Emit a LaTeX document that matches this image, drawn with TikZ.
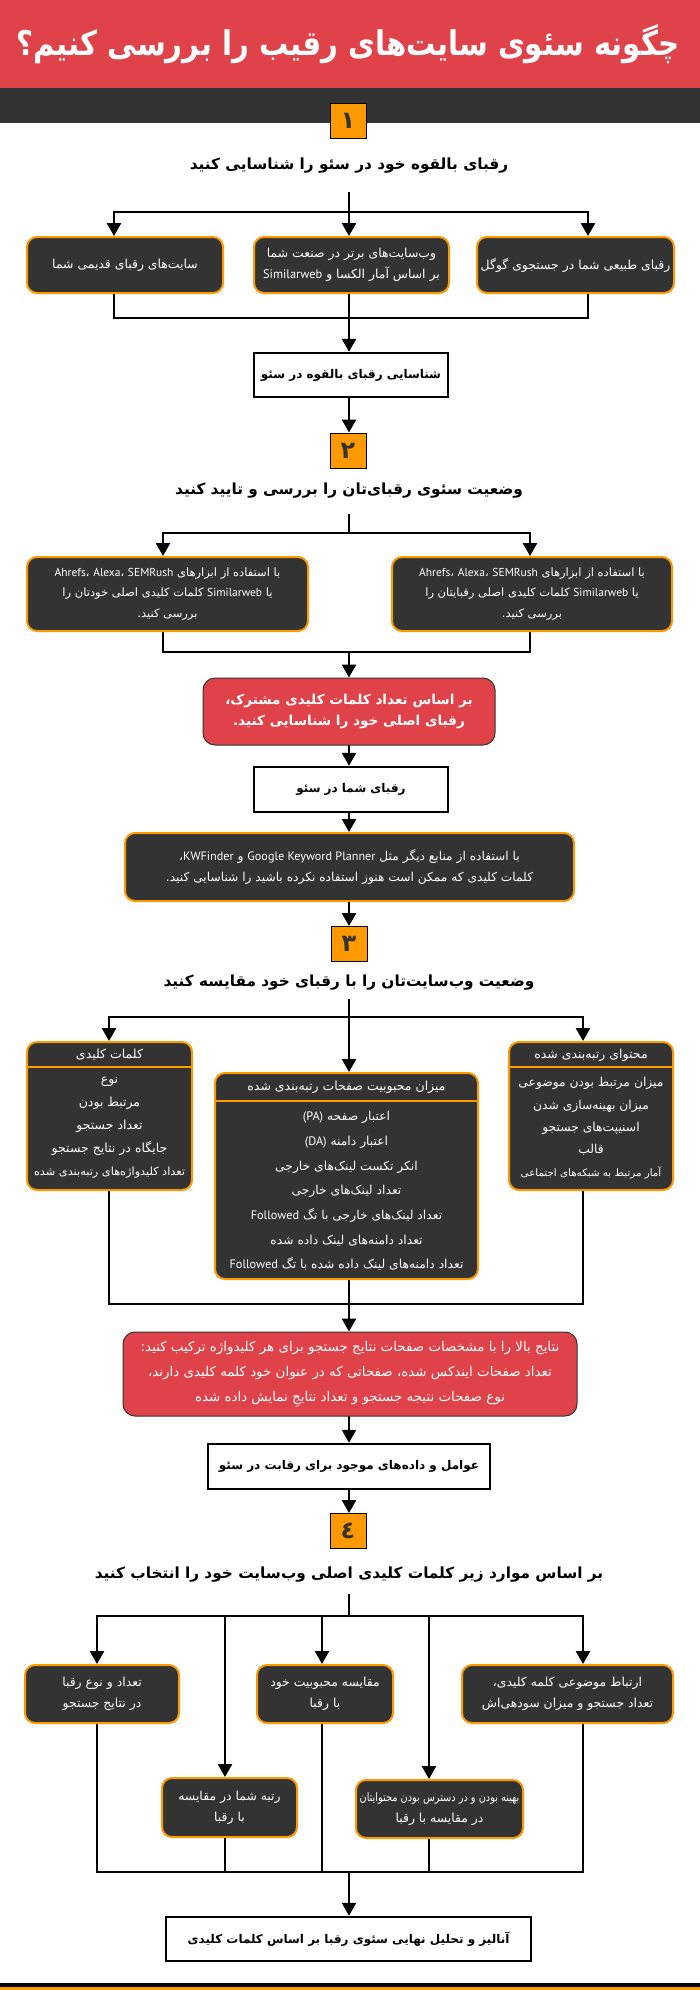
\documentclass[tikz,border=0pt]{standalone}
\usepackage{fontspec}
\usetikzlibrary{arrows.meta}
\TeXXeTstate=1
\newfontfamily\farsi[Script=Arabic]{DejaVu Sans}
\newfontfamily\farsititle[Script=Arabic,FakeStretch=0.86]{DejaVu Sans}
\newfontfamily\farsinarrow[Script=Arabic,FakeStretch=0.84]{DejaVu Sans}
\newfontfamily\latinf{PT Sans}
\newcommand\rl[1]{\beginR #1\endR}
\newcommand\LtR[1]{\beginL #1\endL}
\newcommand\lat[1]{{\latinf #1}}
\definecolor{titlered}{HTML}{E0424A}
\definecolor{dark}{HTML}{333333}
\definecolor{orng}{HTML}{FF9900}
\pgfdeclarelayer{background}
\pgfsetlayers{background,main}
\tikzset{
  conn/.style={draw=black, line width=2.6pt, line cap=rect, line join=miter},
  arr/.style={conn, -{Triangle[width=14pt,length=13pt]}},
  darkbox/.style={draw=orng, fill=dark, line width=2pt, rounded corners=10pt, text=white,
    align=center, inner sep=0pt, font=\farsi\fontsize{12.4}{21}\selectfont},
  boxtext/.style={text=white, align=center, inner sep=0pt, font=\farsi\fontsize{12.5}{23}\selectfont},
  whitebox/.style={draw=black, fill=white, line width=2.5pt, inner sep=0pt,
    font=\farsi\bfseries\fontsize{12}{14}\selectfont},
  redbox/.style={draw=dark, fill=titlered, line width=1pt, rounded corners=12pt, text=white,
    align=center, inner sep=0pt},
  stepbox/.style={draw=black, fill=orng, line width=1pt, minimum width=36pt, minimum height=35pt,
    inner sep=0pt, text=dark, font=\farsi\bfseries\fontsize{24}{24}\selectfont},
  heading/.style={inner sep=0pt, font=\farsi\bfseries\fontsize{15.3}{18}\selectfont},
  titletext/.style={inner sep=0pt, text=white, font=\farsititle\bfseries\fontsize{34}{40}\selectfont},
  sep/.style={draw=orng, line width=2pt},
}
\begin{document}
\begin{tikzpicture}[x=1pt,y=-1pt]
\useasboundingbox (0,0) rectangle (700,1990);
% title
\fill[titlered] (0,0) rectangle (700,88);
\fill[dark] (0,88) rectangle (700,123);
\node[titletext] (title) at (348,44) {\rl{چگونه سئوی سایت‌های رقیب را بررسی کنیم؟}};
\fill[black] (0,1983) rectangle (700,1986.5);
\fill[orng] (0,1986.5) rectangle (700,1990);

% ---------- step 1
\node[stepbox] (s1) at (348,120.5) {۱};
\node[heading] (h1) at (349,166) {\rl{رقبای بالقوه خود در سئو را شناسایی کنید}};
\node[darkbox, minimum width=196pt, minimum height=56pt] (b1l) at (125,265) {\rl{سایت‌های رقبای قدیمی شما}};
\node[darkbox, minimum width=195pt, minimum height=56pt] (b1m) at (351.5,265) {\rl{وب‌سایت‌های برتر در صنعت شما}\\\rl{بر اساس آمار الکسا و \LtR{\lat{Similarweb}}}};
\node[darkbox, minimum width=197pt, minimum height=56pt] (b1r) at (575.5,265) {\rl{رقبای طبیعی شما در جستجوی گوگل}};
\node[whitebox, minimum width=194pt, minimum height=44pt] (w1) at (351,375) {\rl{شناسایی رقبای بالقوه در سئو}};

% ---------- step 2
\node[stepbox] (s2) at (348,450.5) {۲};
\node[heading] (h2) at (349,491) {\rl{وضعیت سئوی رقبای‌تان را بررسی و تایید کنید}};
\node[darkbox, minimum width=281pt, minimum height=74pt, font=\farsi\fontsize{11.5}{20.5}\selectfont] (b2l) at (167.5,594) {\rl{با استفاده از ابزارهای \LtR{\lat{Ahrefs}، \lat{Alexa}، \lat{SEMRush}}}\\\rl{یا \LtR{\lat{Similarweb}} کلمات کلیدی اصلی خودتان را}\\\rl{بررسی کنید.}};
\node[darkbox, minimum width=280pt, minimum height=74pt, font=\farsi\fontsize{11.5}{20.5}\selectfont] (b2r) at (532,594) {\rl{با استفاده از ابزارهای \LtR{\lat{Ahrefs}، \lat{Alexa}، \lat{SEMRush}}}\\\rl{یا \LtR{\lat{Similarweb}} کلمات کلیدی اصلی رقبایتان را}\\\rl{بررسی کنید.}};
\node[redbox, minimum width=292pt, minimum height=67pt, font=\farsi\bfseries\fontsize{13.6}{21}\selectfont] (red1) at (349,711.5) {\rl{بر اساس تعداد کلمات کلیدی مشترک،}\\\rl{رقبای اصلی خود را شناسایی کنید.}};
\node[whitebox, minimum width=194pt, minimum height=45pt] (w2) at (351,789.5) {\rl{رقبای شما در سئو}};
\node[darkbox, minimum width=449pt, minimum height=68pt, font=\farsi\fontsize{12.2}{21}\selectfont] (d2) at (349.5,867) {\rl{با استفاده از منابع دیگر مثل \LtR{\lat{Google Keyword Planner}} و \LtR{\lat{KWFinder}}،}\\\rl{کلمات کلیدی که ممکن است هنوز استفاده نکرده باشید را شناسایی کنید.}};

% ---------- step 3
\node[stepbox] (s3) at (349,944) {۳};
\node[heading] (h3) at (349,983) {\rl{وضعیت وب‌سایت‌تان را با رقبای خود مقایسه کنید}};
\node[darkbox, minimum width=165pt, minimum height=148pt] (kw) at (109.5,1116) {};
\node[darkbox, minimum width=263pt, minimum height=206pt] (pop) at (346.5,1176) {};
\node[darkbox, minimum width=164pt, minimum height=148pt] (cont) at (591,1116) {};
\draw[sep] (kw.west |- 0,1067) -- (kw.east |- 0,1067);
\draw[sep] (pop.west |- 0,1101) -- (pop.east |- 0,1101);
\draw[sep] (cont.west |- 0,1067) -- (cont.east |- 0,1067);
\node[boxtext] (kwh) at (109.5,1055) {\rl{کلمات کلیدی}};
\node[boxtext] (poph) at (346.5,1087) {\rl{میزان محبوبیت صفحات رتبه‌بندی شده}};
\node[boxtext] (conth) at (591,1055) {\rl{محتوای رتبه‌بندی شده}};
\node[boxtext] (kwi) at (109.5,1128) {\rl{نوع}\\\rl{مرتبط بودن}\\\rl{تعداد جستجو}\\\rl{جایگاه در نتایج جستجو}\\\rl{\fontsize{11.3}{23}\selectfont تعداد کلیدواژه‌های رتبه‌بندی شده}};
\node[boxtext, font=\farsi\fontsize{12.3}{24.7}\selectfont] (popi) at (346.5,1191) {\rl{اعتبار صفحه \LtR{\lat{(PA)}}}\\\rl{اعتبار دامنه \LtR{\lat{(DA)}}}\\\rl{انکر تکست لینک‌های خارجی}\\\rl{تعداد لینک‌های خارجی}\\\rl{تعداد لینک‌های خارجی با تگ \LtR{\lat{Followed}}}\\\rl{تعداد دامنه‌های لینک داده شده}\\\rl{تعداد دامنه‌های لینک داده شده با تگ \LtR{\lat{Followed}}}};
\node[boxtext, font=\farsi\fontsize{12.3}{22.3}\selectfont] (conti) at (591,1128) {\rl{میزان مرتبط بودن موضوعی}\\\rl{میزان بهینه‌سازی شدن}\\\rl{اسنیپت‌های جستجو}\\\rl{قالب}\\\rl{\fontsize{10.3}{22.3}\selectfont آمار مرتبط به شبکه‌های اجتماعی}};
\node[redbox, minimum width=454pt, minimum height=84pt, font=\farsi\fontsize{13.4}{25}\selectfont] (red2) at (350,1374) {\rl{نتایج بالا را با مشخصات صفحات نتایج جستجو برای هر کلیدواژه ترکیب کنید:}\\\rl{تعداد صفحات ایندکس شده، صفحاتی که در عنوان خود کلمه کلیدی دارند،}\\\rl{نوع صفحات نتیجه جستجو و تعداد نتایجِ نمایش داده شده}};
\node[whitebox, minimum width=282pt, minimum height=45pt] (w3) at (349,1466.5) {\rl{عوامل و داده‌های موجود برای رقابت در سئو}};

% ---------- step 4
\node[stepbox] (s4) at (348,1531) {٤};
\node[heading] (h4) at (349,1575) {\rl{بر اساس موارد زیر کلمات کلیدی اصلی وب‌سایت خود را انتخاب کنید}};
\node[darkbox, minimum width=154pt, minimum height=58pt] (t1) at (102,1694) {\rl{تعداد و نوع رقبا}\\\rl{در نتایج جستجو}};
\node[darkbox, minimum width=136pt, minimum height=58pt] (t2) at (325,1694) {\rl{مقایسه محبوبیت خود}\\\rl{با رقبا}};
\node[darkbox, minimum width=211pt, minimum height=58pt] (t3) at (567.5,1694) {\rl{ارتباط موضوعی کلمه کلیدی،}\\\rl{تعداد جستجو و میزان سودهی‌اش}};
\node[darkbox, minimum width=135pt, minimum height=59pt] (r1) at (229.5,1807.5) {\rl{رتبه شما در مقایسه}\\\rl{با رقبا}};
\node[darkbox, minimum width=167pt, minimum height=58pt, font=\farsinarrow\fontsize{11.6}{21}\selectfont] (r2) at (439.5,1809) {\rl{بهینه بودن و در دسترس بودن محتوایتان}\\\rl{\farsi\fontsize{12.4}{21}\selectfont در مقایسه با رقبا}};
\node[whitebox, minimum width=365pt, minimum height=44pt] (fin) at (348.5,1939) {\rl{آنالیز و تحلیل نهایی سئوی رقبا بر اساس کلمات کلیدی}};

% ---------- connectors
\begin{pgfonlayer}{background}
\coordinate (h1o) at (349,193);
\coordinate (j1m) at (349,212);
\coordinate (j1l) at (114,212);
\coordinate (j1r) at (588,212);
\coordinate (k1l) at (114,318);
\coordinate (k1r) at (588,318);
\draw[conn] (h1o) -- (j1m);
\draw[conn] (j1l) -- (j1r);
\draw[arr] (j1l) -- (j1l |- b1l.north);
\draw[arr] (j1m) -- (j1m |- b1m.north);
\draw[arr] (j1r) -- (j1r |- b1r.north);
\draw[conn] (k1l |- b1l.south) -- (k1l) -- (k1r) -- (k1r |- b1r.south);
\draw[arr] (j1m |- b1m.south) -- (j1m |- w1.north);
\draw[arr] (j1m |- w1.south) -- (j1m |- s2.north);

\coordinate (h2o) at (349,515);
\coordinate (j2m) at (349,533);
\coordinate (j2l) at (163,533);
\coordinate (j2r) at (530,533);
\coordinate (k2l) at (163,652);
\coordinate (k2r) at (530,652);
\coordinate (k2m) at (349,652);
\draw[conn] (h2o) -- (j2m);
\draw[conn] (j2l) -- (j2r);
\draw[arr] (j2l) -- (j2l |- b2l.north);
\draw[arr] (j2r) -- (j2r |- b2r.north);
\draw[conn] (k2l |- b2l.south) -- (k2l) -- (k2r) -- (k2r |- b2r.south);
\draw[arr] (k2m) -- (k2m |- red1.north);
\draw[arr] (k2m |- red1.south) -- (k2m |- w2.north);
\draw[arr] (k2m |- w2.south) -- (k2m |- d2.north);
\draw[arr] (k2m |- d2.south) -- (k2m |- s3.north);

\coordinate (h3o) at (349,1000);
\coordinate (j3m) at (349,1017);
\coordinate (j3l) at (109,1017);
\coordinate (j3r) at (583,1017);
\coordinate (k3l) at (109,1304);
\coordinate (k3r) at (583,1304);
\draw[conn] (h3o) -- (j3m);
\draw[conn] (j3l) -- (j3r);
\draw[arr] (j3l) -- (j3l |- kw.north);
\draw[arr] (j3m) -- (j3m |- pop.north);
\draw[arr] (j3r) -- (j3r |- cont.north);
\draw[conn] (k3l |- kw.south) -- (k3l) -- (k3r) -- (k3r |- cont.south);
\draw[arr] (j3m |- pop.south) -- (j3m |- red2.north);
\draw[arr] (j3m |- red2.south) -- (j3m |- w3.north);
\draw[arr] (j3m |- w3.south) -- (j3m |- s4.north);

\coordinate (h4o) at (349,1595);
\coordinate (j4m) at (349,1616);
\coordinate (j4a) at (97,1616);
\coordinate (j4b) at (225,1616);
\coordinate (j4c) at (322,1616);
\coordinate (j4d) at (429,1616);
\coordinate (j4e) at (583,1616);
\coordinate (k4a) at (97,1872);
\coordinate (k4b) at (225,1872);
\coordinate (k4c) at (322,1872);
\coordinate (k4d) at (429,1872);
\coordinate (k4e) at (583,1872);
\coordinate (k4m) at (349,1872);
\draw[conn] (h4o) -- (j4m);
\draw[conn] (j4a) -- (j4e);
\draw[arr] (j4a) -- (j4a |- t1.north);
\draw[arr] (j4b) -- (j4b |- r1.north);
\draw[arr] (j4c) -- (j4c |- t2.north);
\draw[arr] (j4d) -- (j4d |- r2.north);
\draw[arr] (j4e) -- (j4e |- t3.north);
\draw[conn] (k4a |- t1.south) -- (k4a) -- (k4e) -- (k4e |- t3.south);
\draw[conn] (k4b |- r1.south) -- (k4b);
\draw[conn] (k4c |- t2.south) -- (k4c);
\draw[conn] (k4d |- r2.south) -- (k4d);
\draw[arr] (k4m) -- (k4m |- fin.north);
\end{pgfonlayer}
\end{tikzpicture}
\end{document}
